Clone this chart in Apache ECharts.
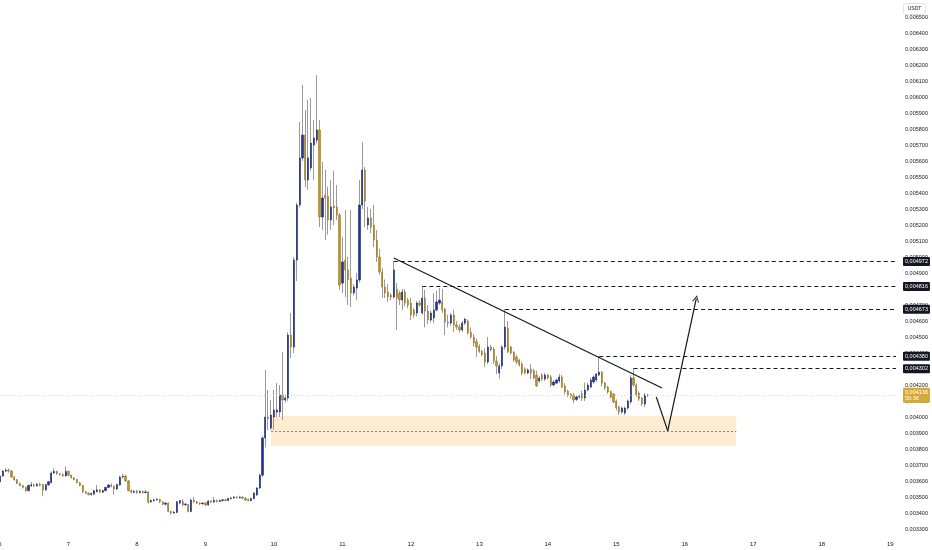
<!DOCTYPE html>
<html><head><meta charset="utf-8">
<script src="https://cdn.jsdelivr.net/npm/echarts@6/dist/echarts.min.js"></script>
<style>html,body{margin:0;padding:0;background:#fff;}#c{width:932px;height:550px;}</style>
</head><body><div id="c"></div>
<script>
// tick labels (days) - hourly candles
const dayLabels = ['6','7','8','9','10','11','12','13','14','15','16','17','18','19'];
const hoursShown = 315;

const opens = [
0.003594,0.003631,0.003662,0.003668,0.003662,0.003625,0.003608,0.003585,0.003572,0.003560,
0.003540,0.003570,0.003576,0.003570,0.003580,0.003578,0.003545,0.003576,0.003590,0.003650,
0.003660,0.003645,0.003640,0.003632,0.003660,0.003636,0.003620,0.003610,0.003590,0.003572,
0.003532,0.003524,0.003515,0.003518,0.003534,0.003545,0.003530,0.003540,0.003560,0.003575,
0.003568,0.003550,0.003575,0.003625,0.003630,0.003600,0.003540,0.003530,0.003536,0.003528,
0.003535,0.003528,0.003532,0.003470,0.003478,0.003482,0.003485,0.003470,0.003455,0.003462,
0.003410,0.003400,0.003404,0.003462,0.003470,0.003452,0.003452,0.003410,0.003481,0.003470,
0.003462,0.003458,0.003462,0.003450,0.003475,0.003468,0.003478,0.003472,0.003478,0.003482,
0.003478,0.003490,0.003494,0.003500,0.003496,0.003500,0.003492,0.003485,0.003478,0.003490,
0.003512,0.003556,0.003637,0.003869,0.004000,0.003931,0.004000,0.004030,0.004031,0.004137,
0.004106,0.004119,0.004512,0.004437,0.004981,0.005325,0.005619,0.005762,0.005481,0.005556,
0.005700,0.005731,0.005794,0.005250,0.005387,0.005381,0.005231,0.005318,0.005312,0.005262,
0.004837,0.004981,0.004919,0.004869,0.004775,0.004806,0.004856,0.005325,0.005544,0.005200,
0.005244,0.005200,0.005106,0.005000,0.004906,0.004812,0.004780,0.004762,0.004750,0.004800,
0.004775,0.004731,0.004781,0.004731,0.004712,0.004669,0.004650,0.004712,0.004650,0.004744,
0.004662,0.004606,0.004619,0.004669,0.004712,0.004719,0.004675,0.004594,0.004587,0.004637,
0.004575,0.004562,0.004544,0.004587,0.004600,0.004530,0.004500,0.004470,0.004440,0.004412,
0.004400,0.004344,0.004437,0.004425,0.004350,0.004275,0.004319,0.004437,0.004556,0.004437,
0.004406,0.004375,0.004356,0.004331,0.004300,0.004275,0.004300,0.004290,0.004262,0.004225,
0.004262,0.004237,0.004262,0.004250,0.004200,0.004212,0.004225,0.004250,0.004194,0.004162,
0.004140,0.004137,0.004110,0.004125,0.004144,0.004119,0.004169,0.004187,0.004219,0.004231,
0.004262,0.004281,0.004212,0.004187,0.004160,0.004144,0.004100,0.004062,0.004031,0.004025,
0.004056,0.004094,0.004244,0.004200,0.004150,0.004119,0.004081,0.004137
];
const closes = [
0.003631,0.003662,0.003668,0.003662,0.003625,0.003608,0.003585,0.003572,0.003560,0.003540,
0.003572,0.003576,0.003570,0.003580,0.003574,0.003542,0.003576,0.003595,0.003650,0.003660,
0.003645,0.003640,0.003632,0.003660,0.003636,0.003620,0.003610,0.003590,0.003572,0.003532,
0.003524,0.003515,0.003522,0.003540,0.003545,0.003530,0.003540,0.003560,0.003575,0.003568,
0.003550,0.003578,0.003625,0.003630,0.003600,0.003540,0.003530,0.003536,0.003528,0.003535,
0.003528,0.003532,0.003465,0.003478,0.003482,0.003485,0.003470,0.003455,0.003462,0.003410,
0.003400,0.003406,0.003470,0.003478,0.003450,0.003456,0.003410,0.003481,0.003470,0.003462,
0.003458,0.003462,0.003450,0.003475,0.003468,0.003478,0.003472,0.003478,0.003482,0.003478,
0.003490,0.003494,0.003500,0.003496,0.003500,0.003492,0.003480,0.003478,0.003490,0.003525,
0.003556,0.003637,0.003869,0.004000,0.003990,0.004012,0.004044,0.004044,0.004137,0.004106,
0.004119,0.004512,0.004437,0.004981,0.005325,0.005619,0.005762,0.005481,0.005619,0.005712,
0.005744,0.005794,0.005250,0.005369,0.005369,0.005231,0.005312,0.005306,0.005262,0.004825,
0.004969,0.004919,0.004856,0.004775,0.004812,0.004856,0.005325,0.005544,0.005350,0.005244,
0.005187,0.005106,0.005000,0.004906,0.004812,0.004775,0.004750,0.004750,0.004919,0.004744,
0.004731,0.004781,0.004712,0.004700,0.004637,0.004637,0.004712,0.004700,0.004744,0.004662,
0.004606,0.004650,0.004669,0.004719,0.004731,0.004669,0.004594,0.004587,0.004637,0.004575,
0.004562,0.004544,0.004587,0.004612,0.004525,0.004500,0.004462,0.004437,0.004410,0.004390,
0.004344,0.004437,0.004419,0.004350,0.004319,0.004319,0.004437,0.004562,0.004406,0.004400,
0.004356,0.004344,0.004325,0.004275,0.004275,0.004294,0.004275,0.004244,0.004194,0.004244,
0.004237,0.004262,0.004244,0.004200,0.004219,0.004231,0.004250,0.004187,0.004156,0.004137,
0.004131,0.004106,0.004125,0.004130,0.004119,0.004169,0.004200,0.004231,0.004250,0.004269,
0.004281,0.004212,0.004181,0.004156,0.004125,0.004094,0.004056,0.004031,0.004056,0.004056,
0.004100,0.004244,0.004200,0.004137,0.004112,0.004081,0.004137,0.004136
];
const lows = [
0.003580,0.003625,0.003655,0.003652,0.003620,0.003602,0.003580,0.003566,0.003552,0.003532,
0.003535,0.003562,0.003562,0.003564,0.003566,0.003505,0.003538,0.003570,0.003585,0.003644,
0.003640,0.003634,0.003626,0.003628,0.003630,0.003616,0.003604,0.003585,0.003566,0.003526,
0.003518,0.003510,0.003508,0.003512,0.003528,0.003524,0.003526,0.003536,0.003555,0.003560,
0.003515,0.003545,0.003570,0.003615,0.003594,0.003535,0.003522,0.003524,0.003520,0.003522,
0.003520,0.003522,0.003460,0.003462,0.003470,0.003476,0.003462,0.003448,0.003448,0.003404,
0.003388,0.003395,0.003398,0.003455,0.003444,0.003444,0.003404,0.003405,0.003462,0.003456,
0.003450,0.003452,0.003444,0.003446,0.003462,0.003462,0.003466,0.003468,0.003472,0.003472,
0.003474,0.003484,0.003488,0.003490,0.003490,0.003486,0.003476,0.003472,0.003474,0.003485,
0.003508,0.003550,0.003625,0.003810,0.003919,0.003919,0.003919,0.004000,0.004000,0.003981,
0.004090,0.004100,0.004369,0.004400,0.004850,0.005310,0.005600,0.005437,0.005420,0.005540,
0.005481,0.005710,0.005187,0.005169,0.005106,0.005140,0.005170,0.005200,0.005230,0.004794,
0.004775,0.004750,0.004700,0.004687,0.004760,0.004731,0.004840,0.005300,0.005187,0.005169,
0.005150,0.005062,0.004969,0.004890,0.004744,0.004744,0.004720,0.004730,0.004740,0.004544,
0.004700,0.004668,0.004690,0.004680,0.004606,0.004620,0.004630,0.004690,0.004640,0.004560,
0.004580,0.004590,0.004587,0.004660,0.004700,0.004650,0.004512,0.004560,0.004570,0.004530,
0.004545,0.004530,0.004530,0.004575,0.004515,0.004490,0.004440,0.004375,0.004400,0.004380,
0.004312,0.004330,0.004410,0.004330,0.004270,0.004240,0.004300,0.004420,0.004400,0.004390,
0.004345,0.004330,0.004315,0.004260,0.004265,0.004268,0.004237,0.004235,0.004187,0.004215,
0.004225,0.004225,0.004235,0.004187,0.004195,0.004205,0.004215,0.004180,0.004140,0.004125,
0.004115,0.004087,0.004100,0.004115,0.004100,0.004100,0.004160,0.004180,0.004210,0.004220,
0.004255,0.004190,0.004170,0.004145,0.004115,0.004085,0.004040,0.004012,0.004020,0.004012,
0.004045,0.004080,0.004190,0.004125,0.004100,0.004070,0.004062,0.004125
];
const highs = [
0.003640,0.003670,0.003680,0.003678,0.003668,0.003630,0.003612,0.003590,0.003576,0.003564,
0.003576,0.003594,0.003584,0.003588,0.003590,0.003582,0.003582,0.003600,0.003660,0.003680,
0.003664,0.003650,0.003648,0.003690,0.003665,0.003640,0.003625,0.003614,0.003594,0.003576,
0.003538,0.003530,0.003528,0.003545,0.003575,0.003550,0.003546,0.003564,0.003580,0.003584,
0.003572,0.003584,0.003632,0.003645,0.003640,0.003606,0.003548,0.003542,0.003545,0.003542,
0.003540,0.003545,0.003536,0.003486,0.003490,0.003492,0.003490,0.003474,0.003468,0.003466,
0.003414,0.003412,0.003476,0.003482,0.003486,0.003462,0.003456,0.003490,0.003500,0.003475,
0.003468,0.003468,0.003468,0.003480,0.003480,0.003500,0.003484,0.003484,0.003488,0.003488,
0.003494,0.003500,0.003506,0.003505,0.003508,0.003504,0.003498,0.003490,0.003496,0.003530,
0.003562,0.003644,0.003880,0.004294,0.004169,0.004106,0.004169,0.004212,0.004200,0.004406,
0.004140,0.004530,0.004650,0.005000,0.005340,0.005844,0.006075,0.005919,0.005981,0.005994,
0.005856,0.006137,0.005856,0.005594,0.005544,0.005440,0.005480,0.005540,0.005450,0.005275,
0.005125,0.005294,0.005000,0.005294,0.004830,0.004900,0.005481,0.005719,0.005562,0.005312,
0.005300,0.005325,0.005169,0.005050,0.004930,0.004860,0.004830,0.004775,0.004972,0.004837,
0.004790,0.004800,0.004800,0.004745,0.004745,0.004680,0.004725,0.004730,0.004816,0.004794,
0.004700,0.004665,0.004775,0.004790,0.004806,0.004800,0.004680,0.004640,0.004650,0.004670,
0.004600,0.004580,0.004600,0.004620,0.004610,0.004560,0.004520,0.004490,0.004455,0.004420,
0.004430,0.004500,0.004450,0.004437,0.004380,0.004335,0.004450,0.004673,0.004600,0.004445,
0.004412,0.004390,0.004362,0.004345,0.004310,0.004305,0.004330,0.004300,0.004290,0.004255,
0.004275,0.004275,0.004270,0.004262,0.004230,0.004240,0.004270,0.004262,0.004212,0.004170,
0.004150,0.004150,0.004135,0.004140,0.004165,0.004215,0.004215,0.004245,0.004260,0.004275,
0.004380,0.004287,0.004220,0.004195,0.004165,0.004150,0.004110,0.004070,0.004065,0.004065,
0.004110,0.004262,0.004302,0.004210,0.004160,0.004125,0.004150,0.004145
];

// drawn levels (price, start candle index)
const levelPrices = [0.004972, 0.004816, 0.004673, 0.004380, 0.004302];
const levelStarts = [138, 148, 177, 210, 222];
const lastPrice = 0.004136;
const countdownText = '56:36';
// demand zone
const zoneX = [95, 258];
const zoneY = [0.003819, 0.004006];
const zoneMid = 0.003913;
// trend line
const trendX = [138, 232];
const trendY = [0.004994, 0.004181];
// projected path
const pathX = [230, 234, 244];
const pathY = [0.004125, 0.003913, 0.004740];

const categories = [];
dayLabels.forEach(d => { for (let h = 0; h < 24; h++) categories.push(d + ' ' + (h < 10 ? '0' : '') + h); });
const cats = categories.slice(0, hoursShown);

const fmt = v => v.toFixed(6).replace('.', ',');
const wickData = opens.map((o, i) => [o, closes[i], lows[i], highs[i]]);
const bodyData = opens.map((o, i) => [o, closes[i], Math.min(o, closes[i]), Math.max(o, closes[i])]);
const lastIdx = cats.length - 1;
const FONT = 'Liberation Sans';

const tagLabel = (text, bg) => ({
  show: true, position: 'end', distance: 7, formatter: text,
  backgroundColor: bg, color: '#ffffff', fontSize: 5.5, fontFamily: FONT,
  padding: [2, 2, 1, 2], borderRadius: 1
});

const markLines = [];
levelPrices.forEach((p, k) => {
  markLines.push([
    { coord: [levelStarts[k], p], lineStyle: { color: '#131722', width: 1, type: [4, 3] }, label: tagLabel(fmt(p), '#131722') },
    { coord: [lastIdx, p] }
  ]);
});
markLines.push([
  { coord: [0, lastPrice], lineStyle: { color: '#f3cf86', width: 0.8, type: [1, 2] },
    label: Object.assign(tagLabel(fmt(lastPrice) + '\n' + countdownText, '#d3aa36'), { lineHeight: 6 }) },
  { coord: [lastIdx, lastPrice] }
]);
markLines.push([
  { coord: [zoneX[0], zoneMid], lineStyle: { color: '#6b6257', width: 0.8, type: [2, 2] }, label: { show: false } },
  { coord: [zoneX[1], zoneMid] }
]);
markLines.push([
  { coord: [trendX[0], trendY[0]], lineStyle: { color: '#131722', width: 1.2, type: 'solid' }, label: { show: false } },
  { coord: [trendX[1], trendY[1]] }
]);
markLines.push([
  { coord: [pathX[0], pathY[0]], lineStyle: { color: '#131722', width: 1.2, type: 'solid' }, label: { show: false } },
  { coord: [pathX[1], pathY[1]] }
]);
markLines.push([
  { coord: [pathX[1], pathY[1]], lineStyle: { color: '#131722', width: 1.2, type: 'solid' }, label: { show: false } },
  { coord: [pathX[2], pathY[2]], symbol: 'path://M0,10 L5,0 L10,10 L8.6,10 L5,2.6 L1.4,10 Z', symbolSize: [7, 7] }
]);

const chart = echarts.init(document.getElementById('c'), null, { renderer: 'canvas' });
chart.setOption({
  animation: false,
  backgroundColor: '#ffffff',
  grid: { left: 0, right: 36, top: 1, bottom: 21, containLabel: false, outerBoundsMode: 'none' },
  xAxis: {
    type: 'category', data: cats, boundaryGap: false,
    axisLine: { show: false }, axisTick: { show: false }, splitLine: { show: false },
    axisLabel: {
      interval: (i) => i % 24 === 0, margin: 12, fontSize: 6, fontFamily: FONT, color: '#131722',
      formatter: v => v.split(' ')[0], hideOverlap: false
    }
  },
  yAxis: {
    type: 'value', position: 'right', min: 0.0033, max: 0.0066, interval: 0.0001,
    axisLine: { show: false }, axisTick: { show: false }, splitLine: { show: false },
    axisLabel: { margin: 9, fontSize: 5.5, fontFamily: FONT, color: '#131722',
      formatter: v => (v > 0.00655 ? '' : fmt(v)) }
  },
  graphic: [{
    type: 'group', right: 6, top: 3,
    children: [
      { type: 'rect', shape: { x: 0, y: 0, width: 22, height: 11, r: 2 }, style: { fill: '#fff', stroke: '#e0e3eb', lineWidth: 1 } },
      { type: 'text', x: 11, y: 5.5, style: { text: 'USDT', fontSize: 5, fontFamily: FONT, fill: '#131722', align: 'center', verticalAlign: 'middle' } }
    ]
  }],
  series: [
    {
      type: 'candlestick', name: 'wick', data: wickData, z: 2, barWidth: 0.2,
      itemStyle: { color: '#9a9a9a', color0: '#9a9a9a', borderColor: '#9a9a9a', borderColor0: '#9a9a9a', borderWidth: 1 },
      markArea: {
        silent: true,
        itemStyle: { color: '#fdebd2' },
        data: [[{ coord: [zoneX[0], zoneY[1]] }, { coord: [zoneX[1], zoneY[0]] }]]
      },
      markLine: { silent: true, symbol: ['none', 'none'], data: markLines }
    },
    {
      type: 'candlestick', name: 'body', data: bodyData, z: 3, barWidth: 1.7,
      itemStyle: { color: '#22369a', color0: '#bb9433', borderColor: '#1a2670', borderColor0: '#9d7b25', borderWidth: 0.6 }
    }
  ]
});
</script>
</body></html>
